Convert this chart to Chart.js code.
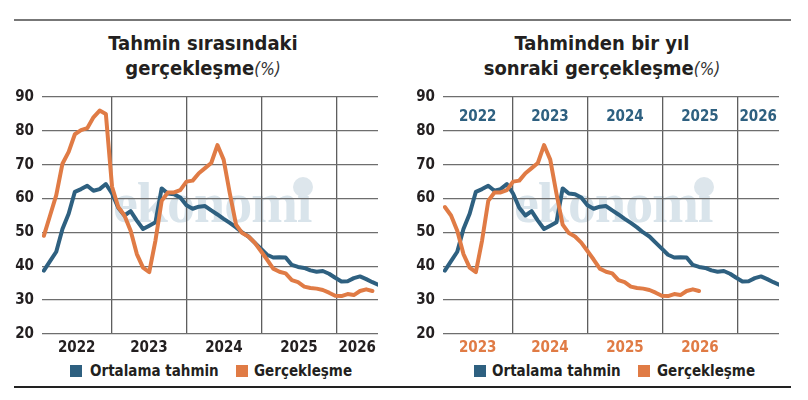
<!doctype html>
<html lang="tr">
<head>
<meta charset="utf-8">
<title>Tahmin ve gerçekleşme</title>
<script src="https://cdn.jsdelivr.net/npm/chart.js@4.4.1/dist/chart.umd.min.js"></script>
<style>
  body { margin: 0; background: #fff; }
  #wrap { position: relative; width: 808px; height: 400px; background: #fff; overflow: hidden;
          font-family: 'DejaVu Sans Condensed', 'DejaVu Sans', sans-serif; color: #231f20; }
  .rule { position: absolute; left: 14px; width: 777px; height: 2px; }
  .title { position: absolute; top: 31px; width: 404px; text-align: center; font-weight: bold;
           font-size: 20px; line-height: 25px; }
  .title i { font-weight: normal; font-size: 17px; color: #333; }
  .box { position: absolute; top: 80px; width: 400px; height: 280px; }
  .mark { position: absolute; top: 171px; font-family: 'Liberation Serif', serif; font-weight: bold;
          font-size: 56px; color: #d9e4eb; letter-spacing: -1px; }
  .globe { position: absolute; top: 177px; width: 20px; height: 20px; border-radius: 50%; background: #dde6ec; }
  .sq { position: absolute; top: 365px; width: 12px; height: 12px; }
  .lg { position: absolute; top: 361px; font-weight: bold; font-size: 15px; line-height: 20px; }
</style>
</head>
<body>
<div id="wrap">
  <div class="rule" style="top:19px;background:#777"></div>
  <div class="rule" style="top:386px;background:#222"></div>

  <div class="title" style="left:1px">Tahmin sırasındaki<br>gerçekleşme<i>(%)</i></div>
  <div class="title" style="left:400px">Tahminden bir yıl<br>sonraki gerçekleşme<i>(%)</i></div>

  <div class="mark" style="left:113px">ekonomi</div>
  <div class="globe" style="left:293px"></div>
  <div class="mark" style="left:514px">ekonomi</div>
  <div class="globe" style="left:694px"></div>

  <div class="box" style="left:0"><canvas id="c1"></canvas></div>
  <div class="box" style="left:401px"><canvas id="c2"></canvas></div>

  <div class="sq" style="left:70px;background:#2e6080"></div>
  <div class="lg" style="left:90px">Ortalama tahmin</div>
  <div class="sq" style="left:236px;background:#e07b45"></div>
  <div class="lg" style="left:254px">Gerçekleşme</div>

  <div class="sq" style="left:474px;background:#2e6080"></div>
  <div class="lg" style="left:492px">Ortalama tahmin</div>
  <div class="sq" style="left:638px;background:#e07b45"></div>
  <div class="lg" style="left:657px">Gerçekleşme</div>
</div>

<script>
// monthly, first point = Jan 2022
var forecast = [38.7, 41.5, 44.3, 51, 55.5, 62, 62.8, 63.8, 62.3, 62.8, 64.3, 61.5,
                57.3, 55, 56.3, 53.5, 51, 52, 53, 63, 61.5, 61.3, 60.3, 58, 57, 57.6,
                57.8, 56.5, 55.3, 54, 52.8, 51.5, 50, 48.8, 47, 45.2, 43.4, 42.6, 42.7,
                42.6, 40.4, 39.8, 39.5, 38.8, 38.4, 38.6, 37.8, 36.6, 35.5, 35.6, 36.5,
                37, 36.2, 35.3, 34.5]
var realized = [49, 55, 61, 70.3, 73.8, 79, 80.2, 80.8, 84, 86, 85, 63.5,
                57.5, 55, 50.5, 43.6, 39.6, 38.3, 47.6, 59.3, 61.8, 61.8, 62.5, 65,
                65.3, 67.5, 69, 70.5, 75.8, 71.5, 61.5, 52.3, 49.8, 48.8, 47, 44.5,
                42, 39.3, 38.4, 37.9, 35.9, 35.3, 34, 33.6, 33.4, 33, 32.2, 31.3,
                31.2, 31.8, 31.5, 32.7, 33.2, 32.7]
var leftYears = ['2022', '2023', '2024', '2025', '2026']
var rightTopYears = ['2022', '2023', '2024', '2025', '2026']
var rightBottomYears = ['2023', '2024', '2025', '2026']
var yTicks = [20, 30, 40, 50, 60, 70, 80, 90]

var BLUE = '#2e6080', ORANGE = '#e07b45', INK = '#231f20'
var FONT = "'DejaVu Sans Condensed', 'DejaVu Sans', sans-serif"
var xMin = -0.3, xMax = 53.9
var bounds = [10.9, 23.0, 35.1, 47.2]
var centers = [(xMin + bounds[0]) / 2, (bounds[0] + bounds[1]) / 2, (bounds[1] + bounds[2]) / 2,
               (bounds[2] + bounds[3]) / 2, (bounds[3] + xMax) / 2]

function pts(arr, shift) {
  var out = []
  for (var i = shift; i < arr.length; i++) out.push({x: i - shift, y: arr[i]})
  return out
}

var topLabels = {
  id: 'topLabels',
  afterDraw: function(chart, args, opts) {
    if (!opts.labels) return
    var ctx = chart.ctx, x = chart.scales.x
    ctx.save()
    ctx.font = 'bold 15px ' + FONT
    ctx.fillStyle = opts.color
    ctx.textAlign = 'center'
    ctx.textBaseline = 'middle'
    opts.labels.forEach(function(t, k) {
      ctx.fillText(t, x.getPixelForValue(centers[k]), chart.chartArea.top + 20)
    })
    ctx.restore()
  }
}

function makeChart(id, orangePts, bottomYears, bottomColor, topYears) {
  return new Chart(document.getElementById(id), {
    type: 'line',
    data: {
      datasets: [
        {label: 'Ortalama tahmin', data: pts(forecast, 0), borderColor: BLUE, order: 1},
        {label: 'Gerçekleşme', data: orangePts, borderColor: ORANGE, order: 0}
      ]
    },
    options: {
      responsive: true,
      maintainAspectRatio: false,
      animation: false,
      layout: {padding: {top: 10, right: 22, bottom: 0, left: 0}},
      elements: {
        line: {borderWidth: 4, tension: 0, borderJoinStyle: 'round', borderCapStyle: 'round'},
        point: {radius: 0}
      },
      plugins: {
        legend: {display: false},
        tooltip: {enabled: false},
        topLabels: {labels: topYears, color: BLUE}
      },
      scales: {
        x: {
          type: 'linear', min: xMin, max: xMax,
          afterBuildTicks: function(s) {
            s.ticks = bounds.map(function(v) { return {value: v, b: true} })
              .concat(centers.map(function(v, k) { return {value: v, label: bottomYears[k] || ''} }))
          },
          afterFit: function(s) { s.height = 26 },
          border: {display: false},
          grid: {
            drawTicks: false, lineWidth: 1.3,
            color: function(c) { return c.tick && c.tick.b ? '#5e5e5e' : 'rgba(0,0,0,0)' }
          },
          ticks: {
            padding: 5, maxRotation: 0, autoSkip: false, color: bottomColor,
            font: {family: FONT, size: 15, weight: 'bold'},
            callback: function(v, i) { return i < bounds.length ? '' : (bottomYears[i - bounds.length] || '') }
          }
        },
        y: {
          min: 20, max: 90,
          afterBuildTicks: function(s) { s.ticks = yTicks.map(function(v) { return {value: v} }) },
          afterFit: function(s) { s.width = 42 },
          border: {display: false},
          grid: {drawTicks: false, color: '#6e6e6e', lineWidth: 1.3},
          ticks: {padding: 8, color: INK, font: {family: FONT, size: 15, weight: 'bold'}}
        }
      }
    },
    plugins: [topLabels]
  })
}

makeChart('c1', pts(realized, 0), leftYears, INK, null)
makeChart('c2', pts(realized, 12), rightBottomYears, ORANGE, rightTopYears)
</script>
</body>
</html>
